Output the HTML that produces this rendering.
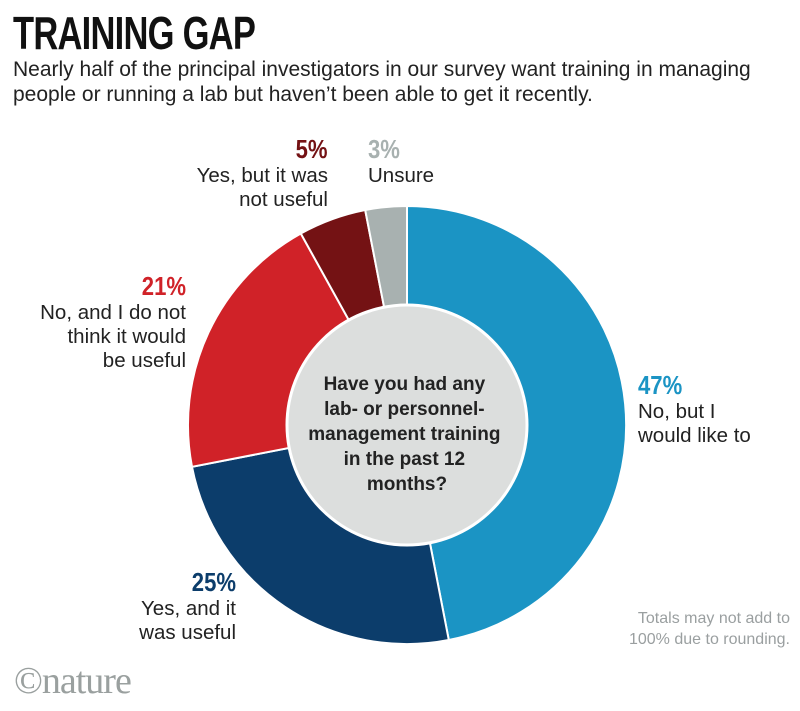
<!DOCTYPE html>
<html><head><meta charset="utf-8"><style>
body{margin:0;background:#fff;}
.w{position:relative;width:800px;height:711px;overflow:hidden;font-family:"Liberation Sans",sans-serif;color:#222;}
.t{position:absolute;left:13px;top:6px;font-family:"Liberation Sans Narrow","Liberation Sans",sans-serif;font-weight:bold;font-size:46px;letter-spacing:-1px;transform:scaleX(0.75);transform-origin:left top;color:#111;}
.s{position:absolute;left:13px;top:57px;font-size:21px;line-height:25px;color:#222;}
.l{position:absolute;font-size:20.5px;line-height:24px;color:#222;}
.p{font-family:"Liberation Sans Narrow","Liberation Sans",sans-serif;font-weight:bold;font-size:26px;line-height:28px;display:inline-block;transform:scaleX(0.85);}
.r{text-align:right}
.n{position:absolute;font-size:16px;line-height:21px;color:#9a9fa0;text-align:right;right:10px;top:608px;}
.nat{position:absolute;left:14px;top:662px;font-family:"Liberation Serif",serif;font-size:38px;color:#9aa09f;letter-spacing:-1px;line-height:38px;}
</style></head><body><div class="w">
<div class="t">TRAINING GAP</div>
<div class="s">Nearly half of the principal investigators in our survey want training in managing<br>people or running a lab but haven’t been able to get it recently.</div>
<svg width="800" height="711" style="position:absolute;left:0;top:0">
<g stroke="#fff" stroke-width="2">
<path d="M407,425 L407,206 A219,219 0 0 1 448.8,640 Z" fill="#1b94c4"/>
<path d="M407,425 L448.8,640 A219,219 0 0 1 192,466.8 Z" fill="#0c3d6b"/>
<path d="M407,425 L192,466.8 A219,219 0 0 1 300.8,233.5 Z" fill="#d02228"/>
<path d="M407,425 L300.8,233.5 A219,219 0 0 1 365.2,210 Z" fill="#741214"/>
<path d="M407,425 L365.2,210 A219,219 0 0 1 407,206 Z" fill="#a8b1b0"/>
</g>
<circle cx="407" cy="425" r="120" fill="#dcdedd" stroke="#fff" stroke-width="3"/>
<text font-family="Liberation Sans,sans-serif" font-weight="bold" font-size="19" fill="#222" text-anchor="middle">
<tspan x="407" y="390">Have you had any</tspan>
<tspan x="407" y="415">lab- or personnel-</tspan>
<tspan x="407" y="440">management training</tspan>
<tspan x="407" y="465">in the past 12</tspan>
<tspan x="407" y="490">months?</tspan>
</text>
</svg>
<div class="l r" style="right:472px;top:135px;"><span class="p" style="color:#741214;transform-origin:right">5%</span><br>Yes, but it was<br>not useful</div>
<div class="l" style="left:368px;top:135px;"><span class="p" style="color:#a8b1b0;transform-origin:left">3%</span><br>Unsure</div>
<div class="l r" style="right:614px;top:272px;"><span class="p" style="color:#d02228;transform-origin:right">21%</span><br>No, and I do not<br>think it would<br>be useful</div>
<div class="l" style="left:638px;top:371px;"><span class="p" style="color:#1b94c4;transform-origin:left">47%</span><br>No, but I<br>would like to</div>
<div class="l r" style="right:564px;top:568px;"><span class="p" style="color:#0c3d6b;transform-origin:right">25%</span><br>Yes, and it<br>was useful</div>
<div class="n">Totals may not add to<br>100% due to rounding.</div>
<div class="nat">©nature</div>
</div></body></html>
